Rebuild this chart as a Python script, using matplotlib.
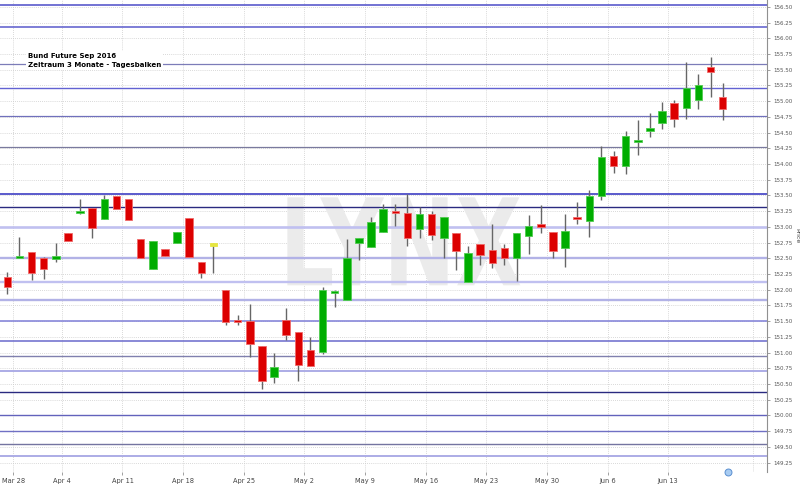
import numpy as np
import pandas as pd
import matplotlib
matplotlib.use('Agg')
import matplotlib.pyplot as plt
from matplotlib.textpath import TextPath
from matplotlib.patches import PathPatch
from matplotlib.font_manager import FontProperties
from matplotlib.transforms import Affine2D

# Trading days (Eurex closed Good Friday / Easter Monday)
dates = pd.bdate_range('2016-03-24', '2016-06-17')
dates = dates[~dates.isin(pd.to_datetime(['2016-03-25', '2016-03-28']))]

opens = [152.21, 152.51, 152.60, 152.51, 152.49, 152.90, 153.22, 153.30, 153.12, 153.49,
         153.44, 152.80, 152.33, 152.65, 152.75, 153.14, 152.44, 152.72, 152.00, 151.51,
         151.50, 151.11, 150.61, 151.52, 151.33, 151.04, 151.01, 151.95, 151.83, 152.75,
         152.68, 152.92, 153.25, 153.22, 152.96, 153.20, 152.83, 152.90, 152.13, 152.72,
         152.63, 152.66, 152.51, 152.86, 153.05, 152.92, 152.67, 153.15, 153.09, 153.49,
         154.12, 153.97, 154.36, 154.54, 154.66, 154.97, 154.89, 155.02, 155.55, 155.06]
highs = [152.29, 152.84, 152.60, 152.52, 152.75, 152.90, 153.45, 153.30, 153.50, 153.49,
         153.44, 152.80, 152.78, 152.65, 152.92, 153.14, 152.44, 152.75, 152.00, 151.60,
         151.77, 151.11, 151.00, 151.71, 151.33, 151.25, 152.05, 152.00, 152.80, 152.83,
         153.15, 153.36, 153.37, 153.52, 153.31, 153.26, 153.16, 152.90, 152.69, 152.72,
         153.04, 152.73, 152.91, 153.19, 153.35, 152.92, 153.21, 153.40, 153.59, 154.28,
         154.21, 154.53, 154.70, 154.81, 154.98, 155.02, 155.62, 155.44, 155.70, 155.29]
lows = [151.94, 152.50, 152.16, 152.17, 152.44, 152.78, 153.21, 152.82, 153.12, 153.29,
        153.11, 152.50, 152.33, 152.54, 152.75, 152.52, 152.18, 152.26, 151.44, 151.44,
        150.93, 150.42, 150.51, 151.20, 150.54, 150.79, 150.97, 151.73, 151.83, 152.48,
        152.68, 152.92, 153.01, 152.69, 152.82, 152.79, 152.51, 152.32, 152.13, 152.40,
        152.35, 152.40, 152.14, 152.57, 152.91, 152.50, 152.36, 153.04, 152.84, 153.42,
        153.85, 153.84, 154.15, 154.43, 154.55, 154.59, 154.72, 154.87, 155.07, 154.70]
closes = [152.04, 152.53, 152.27, 152.33, 152.53, 152.78, 153.25, 152.98, 153.45, 153.29,
          153.11, 152.50, 152.78, 152.54, 152.92, 152.52, 152.26, 152.72, 151.49, 151.49,
          151.13, 150.55, 150.77, 151.28, 150.80, 150.79, 151.99, 151.97, 152.50, 152.83,
          153.07, 153.28, 153.23, 152.82, 153.21, 152.87, 153.16, 152.62, 152.58, 152.55,
          152.42, 152.51, 152.91, 153.02, 153.00, 152.62, 152.94, 153.13, 153.49, 154.11,
          153.97, 154.45, 154.38, 154.56, 154.85, 154.72, 155.21, 155.26, 155.46, 154.88]

# drawn horizontal levels
levels = [156.53, 156.18, 155.59, 155.21, 154.76, 154.27, 153.52, 153.31, 153.00, 152.50,
          152.12, 151.84, 151.50, 151.18, 150.94, 150.70, 150.38, 150.00, 149.75, 149.54,
          149.35]
level_colors = ['#5a5acc', '#5a5acc', '#7c7cb8', '#6262d2', '#7070bc', '#7a7a9e', '#5a5acc',
                '#2a2a80', '#c0c0f0', '#b2b2e6', '#c0c0f0', '#b2b2e6', '#8888da', '#6a6acc',
                '#8080ae', '#acace6', '#2a2a80', '#6262bc', '#7070c4', '#7474a0', '#acace6']
level_widths = [1.2, 1.1, 0.9, 1.0, 0.9, 0.9, 1.4, 1.0, 1.9, 1.7, 1.7, 1.7, 1.2, 1.1,
                1.0, 1.4, 1.0, 1.0, 1.0, 1.0, 1.4]

title_lines = ['Bund Future Sep 2016', 'Zeitraum 3 Monate - Tagesbalken']

opens = np.array(opens)
closes = np.array(closes)
x = np.arange(len(dates))

# week ticks sit half a day before the first session of each week
weeks = pd.date_range('2016-03-28', '2016-06-13', freq='W-MON')
week_pos = dates.searchsorted(weeks) - 0.5
week_labels = [f"{w:%b} {w.day}" for w in weeks]

fig = plt.figure(figsize=(8, 4.86), dpi=100)
ax = fig.add_axes([0, 14 / 486, 767 / 800, 472 / 486])

ax.set_xlim(-0.6, len(dates) + 2.65)
ax.set_ylim(149.10, 156.61)

# grid
yt = np.arange(149.25, 156.51, 0.25)
ax.set_yticks(yt)
ax.set_yticklabels([f"{v:.2f}" for v in yt])
ax.set_xticks(week_pos)
ax.set_xticklabels(week_labels)
ax.set_xticks([len(dates) + 1.5], minor=True)
ax.grid(True, which='both', linestyle=(0, (1, 1.5)), color='#cccccc', linewidth=0.6)
ax.set_axisbelow(True)

# watermark
tp = TextPath((0, 0), 'LYNX', size=1, prop=FontProperties(family='DejaVu Sans', weight='bold'))
ext = tp.get_extents()
x0, x1, y0, y1 = 23.1, 42.3, 152.07, 153.47
tr = Affine2D().translate(-ext.x0, -ext.y0).scale((x1 - x0) / ext.width, (y1 - y0) / ext.height) \
    .translate(x0, y0) + ax.transData
ax.add_patch(PathPatch(tp, transform=tr, fc='#ebebeb', ec='none', zorder=0.8))

# horizontal levels
for lv, c, w in zip(levels, level_colors, level_widths):
    ax.axhline(lv, color=c, linewidth=w, zorder=1.5)

# candles
up = closes > opens
down = closes < opens
face = np.where(up, '#00ad00', np.where(down, '#dc0000', '#e6e640'))
edge = np.where(up, '#50cc50', np.where(down, '#f06a6a', '#e6e640'))
ax.vlines(x, lows, highs, color='#666666', linewidth=1.0, zorder=3)
body_h = np.maximum(np.abs(closes - opens), 0.035)
body_b = np.where(np.abs(closes - opens) < 0.035, (opens + closes) / 2 - 0.0175,
                  np.minimum(opens, closes))
ax.bar(x, body_h, bottom=body_b, width=0.62, color=face, edgecolor=edge,
       linewidth=0.6, zorder=4)

# marker at the bottom right
ax.plot(len(dates) - 0.6, 149.10, marker='o', markersize=5, markerfacecolor='#a8ccf2',
        markeredgecolor='#5a8fd0', markeredgewidth=0.7, clip_on=False, zorder=6)

# axes styling
for s in ['left', 'top', 'bottom']:
    ax.spines[s].set_visible(False)
ax.spines['right'].set_color('#909090')
ax.spines['right'].set_linewidth(0.8)
ax.yaxis.tick_right()
ax.tick_params(axis='y', which='both', length=2.5, width=0.6, color='#909090', pad=2,
               labelsize=4.0, labelcolor='#555555')
ax.tick_params(axis='x', which='both', length=2.5, width=0.6, color='#909090', pad=1.5,
               labelsize=4.8, labelcolor='#444444')
ax.tick_params(axis='x', which='minor', length=0)
ax.yaxis.set_label_position('right')
ax.set_ylabel('Price', rotation=270, fontsize=4.5, color='#444444', va='center')
ax.yaxis.set_label_coords(1.0385, 0.5)

ax.text(0.0365, 0.888, '\n'.join(title_lines), transform=ax.transAxes, ha='left', va='top',
        fontsize=5.0, fontweight='bold', color='black', linespacing=1.55, zorder=7,
        bbox=dict(facecolor='white', edgecolor='none', pad=1.5))

fig.savefig('out.png', dpi=100)
